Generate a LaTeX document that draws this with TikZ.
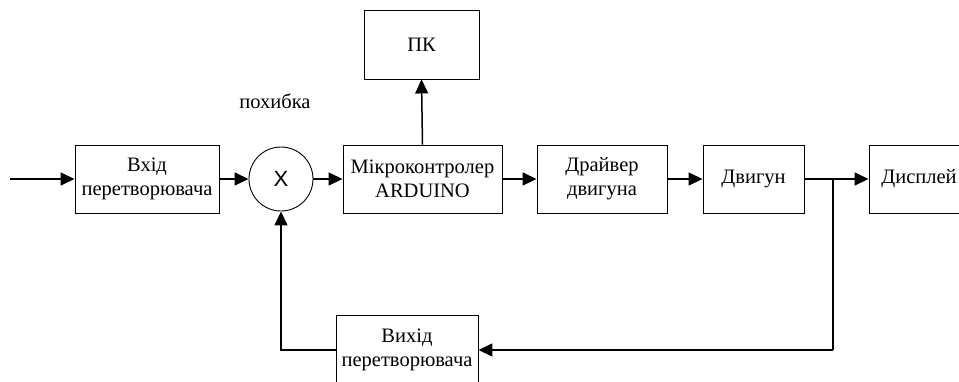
\documentclass[tikz,border=0pt]{standalone}
\usepackage{fontspec}
\setmainfont{Liberation Serif}
\newfontfamily\xsans{Liberation Sans}
\usetikzlibrary{arrows.meta}
\begin{document}
\begin{tikzpicture}[x=1pt,y=-1pt,
  block/.style={draw,line width=0.9pt,rectangle,align=center,inner sep=0pt,
    font=\fontsize{20.5}{24}\selectfont},
  sumnode/.style={draw,line width=0.9pt,circle,minimum size=64pt,inner sep=0pt,
    font=\xsans\fontsize{22}{22}\selectfont},
  arr/.style={line width=1.5pt,-{Triangle[length=14pt,width=13pt]}},
  wire/.style={line width=1.5pt}]
\useasboundingbox (0,0) rectangle (959,381);

% forward path
\node[block,minimum width=144pt,minimum height=68pt] (vin) at (147,179) {Вхід\\перетворювача};
\node[sumnode] (sum) at (281,179) {X};
\node[block,minimum width=159pt,minimum height=68pt] (mcu) at (422.5,179) {Мікроконтролер\\ARDUINO};
\node[block,minimum width=115pt,minimum height=69pt] (pc) at (421.5,44.5) {ПК};
\node[block,minimum width=130pt,minimum height=68pt] (drv) at (602,179) {Драйвер\\двигуна};
\node[block,minimum width=101pt,minimum height=68pt] (motor) at (753.5,179) {Двигун};
\node[block,minimum width=100pt,minimum height=68pt] (disp) at (919,179) {Дисплей};

% feedback path
\node[block,minimum width=142pt,minimum height=70pt] (vout) at (407,350) {Вихід\\перетворювача};

\node[font=\fontsize{20.5}{24}\selectfont] (err) at (275,101) {похибка};

\coordinate (in) at (10,179);
\coordinate (br) at (833,179);
\coordinate (brd) at (833,350);

\draw[arr] (in) -- (vin.west);
\draw[arr] (vin.east) -- (sum.west);
\draw[arr] (sum.east) -- (mcu.west);
\draw[arr] (mcu.north) -- (pc.south);
\draw[arr] (mcu.east) -- (drv.west);
\draw[arr] (drv.east) -- (motor.west);
\draw[arr] (motor.east) -- (disp.west);
\draw[wire] (br) -- (brd);
\draw[arr] (brd) -- (vout.east);
\draw[arr] (vout.west) -| (sum.south);
\end{tikzpicture}
\end{document}
